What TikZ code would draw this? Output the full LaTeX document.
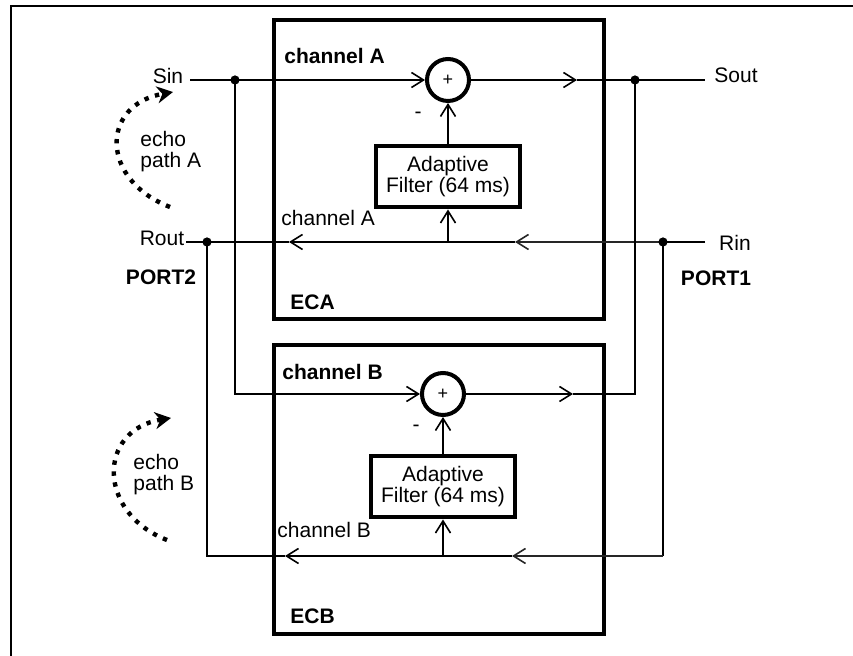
\documentclass[tikz,border=0pt]{standalone}
\usepackage{fontspec}
\setmainfont{Liberation Sans}
\usetikzlibrary{arrows.meta}

\begin{document}
\begin{tikzpicture}[x=0.5pt,y=-0.5pt,font=\fontsize{10.5}{10.5}\selectfont,
    sig/.style={draw=black,line width=1pt},
    faint/.style={draw=black!85,line width=0.7pt},
    tip/.style={-{Straight Barb[length=6pt,width=7.5pt,line width=0.8pt]}},
    echo/.style={line width=2.2pt,dash pattern=on 2.2pt off 3.3pt,-{Stealth[length=8pt,width=8.5pt]}}]
\useasboundingbox (0,0) rectangle (853,656);
\draw[line width=1pt] (11,656) -- (11,6) -- (853,6);

% the two cancellers
\begin{scope}[every node/.style={draw,line width=2.2pt,anchor=north west,minimum width=165pt,inner sep=0pt}]
    \node (ECA)[minimum height=149.5pt] at (272,18) {};
    \node (ECB)[minimum height=144.5pt] at (272,343) {};
\end{scope}

\begin{scope}[every node/.style={draw,line width=2pt,inner sep=0pt}]
    \node (sumA)[circle,minimum size=21pt] at (448,80) {\fontsize{9}{9}\selectfont +};
    \node (sumB)[circle,minimum size=21pt] at (443,394) {\fontsize{9}{9}\selectfont +};
    \node (filtA)[align=center,minimum width=72pt,minimum height=30.5pt] at (448,177) {Adaptive\\Filter (64 ms)};
    \node (filtB)[align=center,minimum width=72pt,minimum height=30.5pt] at (443,487) {Adaptive\\Filter (64 ms)};
\end{scope}

% junctions and line ends
\coordinate (sinL) at (190,80);
\coordinate (sinJ) at (235,80);
\coordinate (outA) at (577,80);
\coordinate (soutJ) at (635,80);
\coordinate (soutR) at (705,80);
\coordinate (outB) at (573,394);
\coordinate (rinR) at (705,242);
\coordinate (rinJ) at (663,242);
\coordinate (inA) at (515,242);
\coordinate (tapA) at (448,242);
\coordinate (chA) at (289,242);
\coordinate (routJ) at (207,242);
\coordinate (routL) at (186,242);
\coordinate (rinB) at (663,556);
\coordinate (inB) at (512,556);
\coordinate (tapB) at (443,556);
\coordinate (chB) at (285,556);

% channel A
\draw[sig] (sinL) -- (sinJ);
\draw[sig,tip] (sinJ) -- (sumA);
\draw[sig,tip] (sumA) -- (outA);
\draw[sig] (outA) -- (soutR);
\draw[sig,tip] (filtA) -- (sumA);
\draw[sig] (rinR) -- (rinJ);
\draw[faint,tip] (rinJ) -- (inA);
\draw[sig] (inA) -- (tapA);
\draw[sig,tip] (tapA) -- (filtA);
\draw[sig,tip] (tapA) -- (chA);
\draw[sig] (chA) -- (routL);

% channel B
\draw[sig,tip] (sinJ) |- (sumB);
\draw[sig,tip] (sumB) -- (outB);
\draw[sig] (outB) -| (soutJ);
\draw[sig,tip] (filtB) -- (sumB);
\draw[sig] (rinJ) -- (rinB);
\draw[faint,tip] (rinB) -- (inB);
\draw[sig] (inB) -- (tapB);
\draw[sig,tip] (tapB) -- (filtB);
\draw[sig,tip] (tapB) -- (chB);
\draw[sig] (chB) -| (routJ);

\foreach \j in {sinJ,soutJ,rinJ,routJ}
    \fill (\j) circle (2.3pt);

% echo paths
\draw[echo] (170,207) .. controls (100,180) and (100,105) .. (173,92);
\draw[echo] (167,540) .. controls (97,513) and (97,430) .. (171,418);

% labels
\node (sin) at (168,76) {Sin};
\node (sout) at (736,75) {Sout};
\node (rout) at (162,238) {Rout};
\node (rin) at (735,243) {Rin};
\node (port2) at (161,277) {\bfseries PORT2};
\node (port1) at (716,278) {\bfseries PORT1};
\node (echoA)[anchor=west,align=left,inner sep=0pt] at (140,152) {echo\\path A};
\node (echoB)[anchor=west,align=left,inner sep=0pt] at (133,475) {echo\\path B};
\node (nameA)[anchor=west,inner sep=0pt] at (284,56) {\bfseries channel A};
\node (nameB)[anchor=west,inner sep=0pt] at (282,372) {\bfseries channel B};
\node (retA)[anchor=west,inner sep=0pt] at (281,218) {channel A};
\node (retB)[anchor=west,inner sep=0pt] at (277,530) {channel B};
\node (eca)[anchor=west,inner sep=0pt] at (290,302) {\bfseries ECA};
\node (ecb)[anchor=west,inner sep=0pt] at (290,616) {\bfseries ECB};
\node (minA) at (418,115) {-};
\node (minB) at (416,428) {-};
\end{tikzpicture}
\end{document}
